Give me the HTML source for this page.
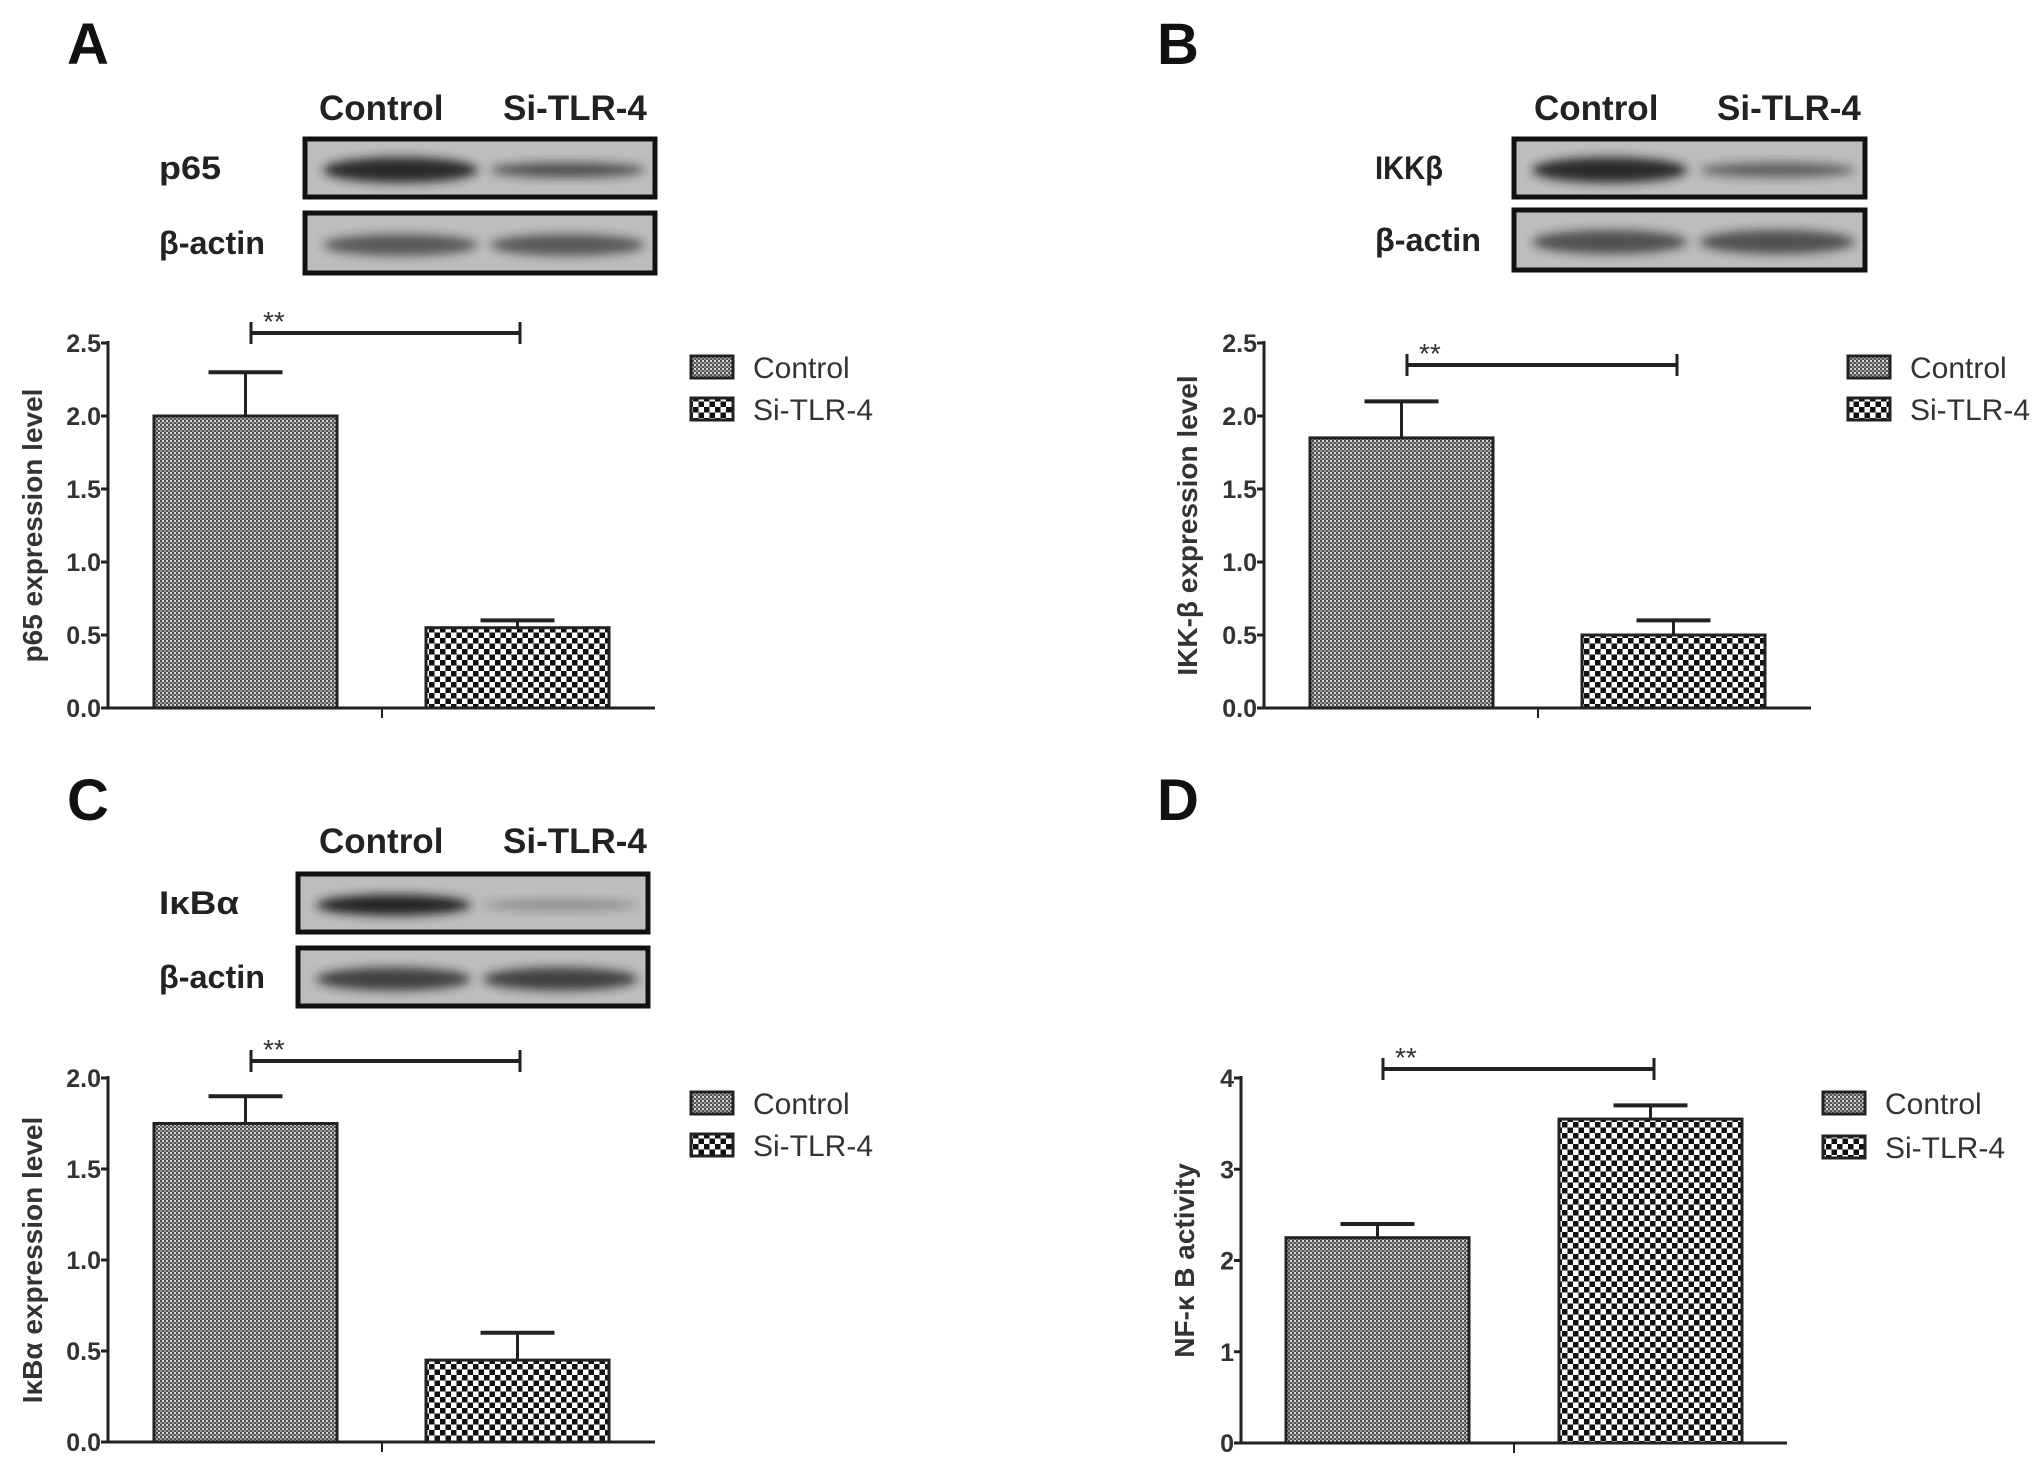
<!DOCTYPE html>
<html><head><meta charset="utf-8">
<style>
html,body{margin:0;padding:0;background:#fff;}
svg{display:block;font-family:"Liberation Sans",Arial,sans-serif;}
</style></head>
<body>
<svg id="fig" width="2043" height="1474" viewBox="0 0 2043 1474" xmlns="http://www.w3.org/2000/svg">
<defs>
<pattern id="patCtrl" width="4" height="4" patternUnits="userSpaceOnUse">
<rect width="4" height="4" fill="#9a9a9a"/>
<rect width="2" height="2" fill="#4a4a4a"/><rect x="2" y="2" width="2" height="2" fill="#555"/>
<rect x="2" y="0" width="2" height="2" fill="#d8d8d8"/>
</pattern>
<pattern id="patSi" width="11" height="11" patternUnits="userSpaceOnUse">
<rect width="11" height="11" fill="#fff"/>
<rect width="5.5" height="5.5" fill="#111"/><rect x="5.5" y="5.5" width="5.5" height="5.5" fill="#111"/>
</pattern>
<filter id="blur" x="-20%" y="-50%" width="140%" height="200%"><feGaussianBlur stdDeviation="5"/></filter>
</defs>
</svg>
<script>
// ---- data ----
const categories = ["Control", "Si-TLR-4"];
const valuesA = [2.0, 0.55];
const errorsA = [0.3, 0.05];
const ticksA = ["0.0","0.5","1.0","1.5","2.0","2.5"];
const valuesB = [1.85, 0.5];
const errorsB = [0.25, 0.1];
const ticksB = ["0.0","0.5","1.0","1.5","2.0","2.5"];
const valuesC = [1.75, 0.45];
const errorsC = [0.15, 0.15];
const ticksC = ["0.0","0.5","1.0","1.5","2.0"];
const valuesD = [2.25, 3.55];
const errorsD = [0.15, 0.15];
const ticksD = ["0","1","2","3","4"];

const svg = document.getElementById('fig');
const NS = 'http://www.w3.org/2000/svg';
function el(tag, attrs, parent, text){
  const e = document.createElementNS(NS, tag);
  for (const k in attrs) e.setAttribute(k, attrs[k]);
  if (text !== undefined) e.textContent = text;
  (parent||svg).appendChild(e);
  return e;
}

function drawChart(cfg, values, errors, ticks){
  const g = el('g', {}, svg);
  
  
  const tmax = parseFloat(ticks[ticks.length-1]);
  const y = v => cfg.y0 - (v / tmax) * (cfg.y0 - cfg.yTop);
  const ya = el('line', {x1:cfg.ax, y1:cfg.yTop-2, x2:cfg.ax, y2:cfg.y0, stroke:'#222', 'stroke-width':3}, g);
  
  
  ticks.forEach(t => {
    const v = parseFloat(t);
    el('line', {x1:cfg.ax-7, y1:y(v), x2:cfg.ax, y2:y(v), stroke:'#222','stroke-width':3}, g);
    const tl = el('text', {x:cfg.ax-7, y:y(v)+9, 'text-anchor':'end', 'font-size':25, 'font-weight':'bold', fill:'#333'}, g, t);
    
    
  });
  const xa = el('line', {x1:cfg.ax, y1:cfg.y0, x2:cfg.xEnd, y2:cfg.y0, stroke:'#222','stroke-width':3}, g);
  
  
  el('line', {x1:cfg.tickX, y1:cfg.y0, x2:cfg.tickX, y2:cfg.y0+10, stroke:'#222','stroke-width':2}, g);
  const yl = el('text', {x:0, y:0, transform:`translate(${cfg.ylx},${(cfg.yTop+cfg.y0)/2}) rotate(-90)`, 'text-anchor':'middle', 'font-size':28, 'font-weight':'bold', fill:'#333'}, g, cfg.ylabel);
  
  
  values.forEach((v, i) => {
    const bx = cfg.barX[i], bw = cfg.barW;
    const top = y(v + errors[i]);
    el('line', {x1:bx+bw/2, y1:y(v), x2:bx+bw/2, y2:top, stroke:'#222','stroke-width':3}, g);
    el('line', {x1:bx+bw/2-37, y1:top, x2:bx+bw/2+37, y2:top, stroke:'#222','stroke-width':4}, g);
    const b = el('rect', {x:bx, y:y(v), width:bw, height:cfg.y0-y(v), fill: i===0?'url(#patCtrl)':'url(#patSi)', stroke:'#222','stroke-width':3}, g);
    
    
  });
  const s = cfg.sig;
  el('line', {x1:s.x1, y1:s.y, x2:s.x2, y2:s.y, stroke:'#222','stroke-width':4}, g);
  el('line', {x1:s.x1, y1:s.y-11, x2:s.x1, y2:s.y+11, stroke:'#222','stroke-width':3}, g);
  el('line', {x1:s.x2, y1:s.y-11, x2:s.x2, y2:s.y+11, stroke:'#222','stroke-width':3}, g);
  const st = el('text', {x:s.x1+12, y:s.y-2, 'font-size':28, fill:'#333'}, g, '**');
  
  
  categories.forEach((c, i) => {
    const ly = cfg.legY[i];
    const lb = el('rect', {x:cfg.legX, y:ly-11, width:42, height:22, fill: i===0?'url(#patCtrl)':'url(#patSi)', stroke:'#222','stroke-width':3}, g);
    
    
    const lt = el('text', {x:cfg.legX+62, y:ly+11, 'font-size':30, fill:'#333'}, g, c);
    
    
  });
}

function drawBlot(b){
  const g = el('g', {}, svg);
  
  
  el('text', {x:b.hx1, y:b.hy, 'font-size':35, 'font-weight':'bold', fill:'#222'}, g, 'Control');
  el('text', {x:b.hx2, y:b.hy, 'font-size':35, 'font-weight':'bold', fill:'#222'}, g, 'Si-TLR-4');
  b.rows.forEach((r, k) => {
    const bx = b.x, bw = b.w, by = r.y, bh = r.h;
    el('rect', {x:bx, y:by, width:bw, height:bh, fill:'#bdbdbd'}, g);
    const half = bw/2;
    r.int.forEach((inten, i) => {
      const cx = bx + half*i + half/2 + (i===0?8:0);
      el('ellipse', {cx:cx, cy:by+bh/2+2, rx:half/2-10, ry:bh*r.th[i], fill:'#222', opacity:inten, filter:'url(#blur)'}, g);
    });
    el('rect', {x:bx, y:by, width:bw, height:bh, fill:'none', stroke:'#111','stroke-width':5}, g);
    const lab = el('text', {x:b.lx, y:by+bh/2+11, 'font-size':32, 'font-weight':'bold', fill:'#222', textLength:r.tl, lengthAdjust:'spacingAndGlyphs'}, g, r.label);
    
    
  });
}

function panelLabel(t, x, yy){
  const p = el('text', {x:x, y:yy, 'font-size':58, 'font-weight':'bold', fill:'#111'}, svg, t);
  
  
}

panelLabel('A', 67, 64);
panelLabel('B', 1157, 64);
panelLabel('C', 67, 820);
panelLabel('D', 1157, 820);

drawBlot({id:'panel-a', x:305, w:350, hx1:319, hx2:503, hy:120, lx:159,
  rows:[{y:139, h:58, label:'p65', tl:62, int:[0.95,0.7], th:[0.22,0.13]},
        {y:213, h:60, label:'β-actin', tl:106, int:[0.65,0.65], th:[0.18,0.18]}]});
drawBlot({id:'panel-b', x:1514, w:351, hx1:1534, hx2:1717, hy:120, lx:1375,
  rows:[{y:139, h:58, label:'IKKβ', tl:68, int:[0.95,0.6], th:[0.22,0.13]},
        {y:210, h:60, label:'β-actin', tl:106, int:[0.7,0.7], th:[0.2,0.2]}]});
drawBlot({id:'panel-c', x:298, w:350, hx1:319, hx2:503, hy:853, lx:159,
  rows:[{y:874, h:58, label:'IκBα', tl:80, int:[1.0,0.3], th:[0.18,0.1]},
        {y:948, h:58, label:'β-actin', tl:106, int:[0.8,0.8], th:[0.2,0.2]}]});

drawChart({id:'panel-a', ax:108, yTop:343, y0:708, xEnd:655, tickX:382, barX:[154,426], barW:183,
  ylx:42, ylabel:'p65 expression level', sig:{x1:251,x2:520,y:333}, legX:691, legY:[367,409]}, valuesA, errorsA, ticksA);
drawChart({id:'panel-b', ax:1264, yTop:343, y0:708, xEnd:1811, tickX:1538, barX:[1310,1582], barW:183,
  ylx:1197, ylabel:'IKK-β  expression level', sig:{x1:1407,x2:1677,y:365}, legX:1848, legY:[367,409]}, valuesB, errorsB, ticksB);
drawChart({id:'panel-c', ax:108, yTop:1078, y0:1442, xEnd:655, tickX:382, barX:[154,426], barW:183,
  ylx:42, ylabel:'IκBα expression level', sig:{x1:251,x2:520,y:1061}, legX:691, legY:[1103,1145]}, valuesC, errorsC, ticksC);
drawChart({id:'panel-d', ax:1241, yTop:1078, y0:1443, xEnd:1787, tickX:1514, barX:[1286,1559], barW:183,
  ylx:1194, ylabel:'NF-κ B activity', sig:{x1:1383,x2:1654,y:1069}, legX:1823, legY:[1103,1147]}, valuesD, errorsD, ticksD);
</script>
</body></html>
